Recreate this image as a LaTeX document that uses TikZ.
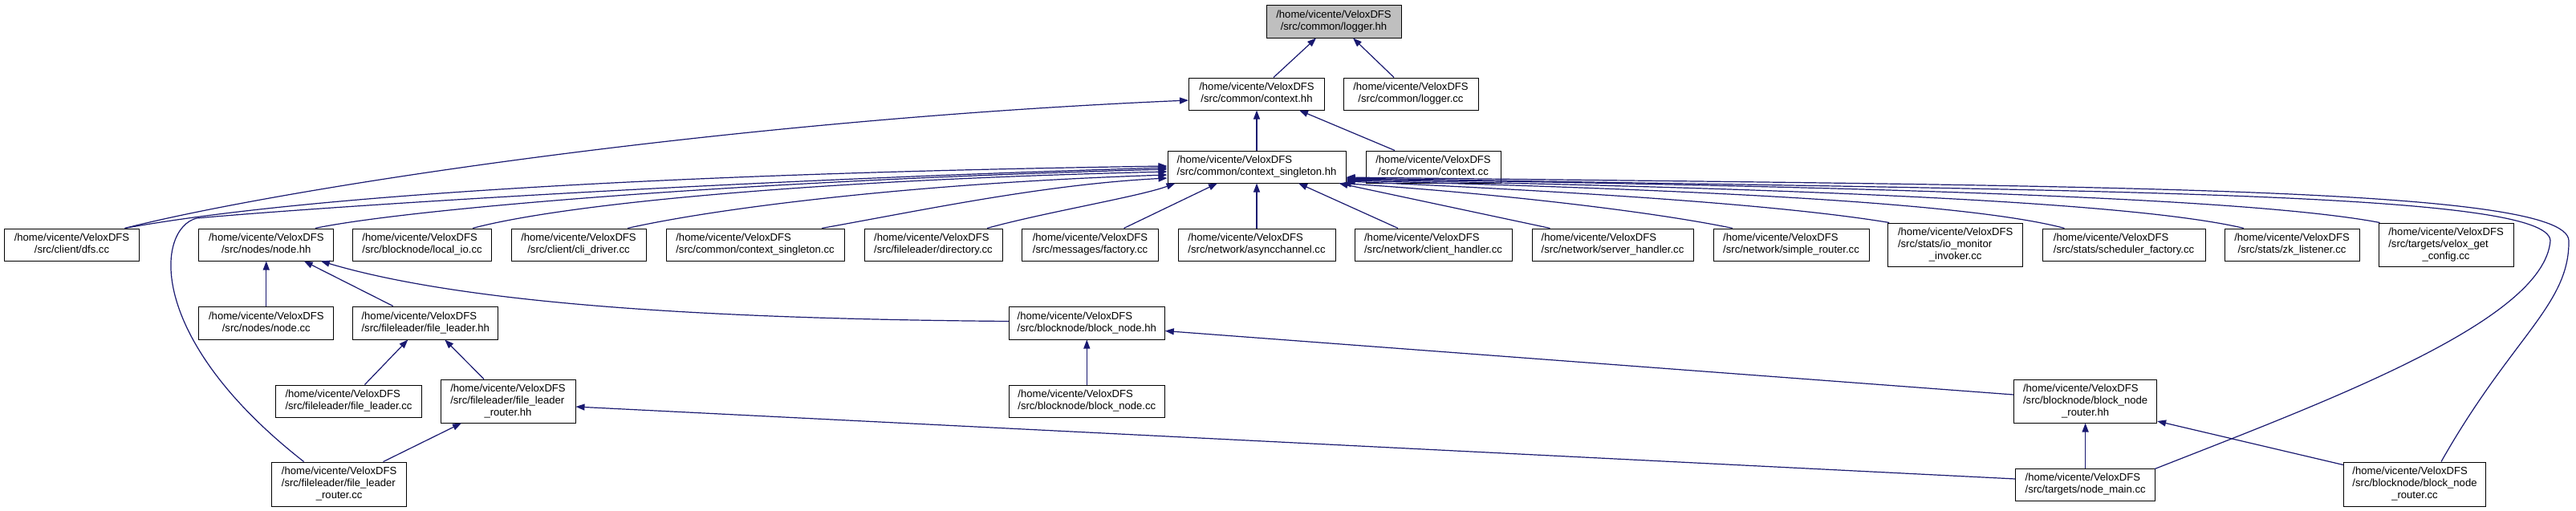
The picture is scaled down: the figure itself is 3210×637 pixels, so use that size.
\documentclass[tikz,border=0pt]{standalone}
\usepackage{fontspec}
\setmainfont{Liberation Sans}
\usetikzlibrary{arrows.meta,calc}
\definecolor{edgecol}{HTML}{191970}
\definecolor{focusfill}{HTML}{BFBFBF}
\newcommand\twol[1]{\begin{tabular}{@{}l@{}}/home/vicente/VeloxDFS\\\multicolumn{1}{@{}c@{}}{#1}\end{tabular}}
\newcommand\threel[2]{\begin{tabular}{@{}l@{}}/home/vicente/VeloxDFS\\#1\\\multicolumn{1}{@{}c@{}}{#2}\end{tabular}}
\begin{document}
\begin{tikzpicture}[x=1pt,y=-1pt,
  file/.style={draw=black, line width=1pt, fill=white, inner sep=0pt, font=\fontsize{13.1}{15}\selectfont},
  dep/.style={draw=edgecol, line width=1.2pt, -{Triangle[length=11pt,width=8pt]}}]
\fill[white] (0,0) rectangle (3210,637);
\useasboundingbox (0,0) rectangle (3210,637);
% row 0-1
\node[file, fill=focusfill, minimum width=168pt, minimum height=41pt] (loggerhh) at (1662,26.5) {\twol{/src/common/logger.hh}};
\node[file, minimum width=169pt, minimum height=40pt] (contexthh) at (1566,117) {\twol{/src/common/context.hh}};
\node[file, minimum width=168pt, minimum height=40pt] (loggercc) at (1758,117) {\twol{/src/common/logger.cc}};
\node[file, minimum width=222pt, minimum height=40pt] (cshh) at (1566,208) {\twol{/src/common/context\_singleton.hh}};
\node[file, minimum width=168pt, minimum height=40pt] (contextcc) at (1786,208) {\twol{/src/common/context.cc}};
% row 2
\node[file, minimum width=168pt, minimum height=40pt] (dfscc) at (89.5,305) {\twol{/src/client/dfs.cc}};
\node[file, minimum width=168pt, minimum height=40pt] (nodehh) at (331.8,305) {\twol{/src/nodes/node.hh}};
\node[file, minimum width=173pt, minimum height=40pt] (localio) at (526,305) {\twol{/src/blocknode/local\_io.cc}};
\node[file, minimum width=168pt, minimum height=40pt] (clidriver) at (721,305) {\twol{/src/client/cli\_driver.cc}};
\node[file, minimum width=222pt, minimum height=40pt] (cscc) at (941,305) {\twol{/src/common/context\_singleton.cc}};
\node[file, minimum width=172pt, minimum height=40pt] (directory) at (1163,305) {\twol{/src/fileleader/directory.cc}};
\node[file, minimum width=170pt, minimum height=40pt] (factory) at (1358.5,305) {\twol{/src/messages/factory.cc}};
\node[file, minimum width=196pt, minimum height=40pt] (asyncch) at (1566,305) {\twol{/src/network/asyncchannel.cc}};
\node[file, minimum width=196pt, minimum height=40pt] (clienth) at (1786,305) {\twol{/src/network/client\_handler.cc}};
\node[file, minimum width=201pt, minimum height=40pt] (serverh) at (2009.5,305) {\twol{/src/network/server\_handler.cc}};
\node[file, minimum width=194pt, minimum height=40pt] (simpler) at (2232,305) {\twol{/src/network/simple\_router.cc}};
\node[file, minimum width=168pt, minimum height=54pt] (iomon) at (2436.7,305) {\threel{/src/stats/io\_monitor}{\_invoker.cc}};
\node[file, minimum width=203pt, minimum height=40pt] (schedf) at (2646.5,305) {\twol{/src/stats/scheduler\_factory.cc}};
\node[file, minimum width=168pt, minimum height=40pt] (zkl) at (2856,305) {\twol{/src/stats/zk\_listener.cc}};
\node[file, minimum width=168pt, minimum height=54pt] (veloxget) at (3048,305) {\threel{/src/targets/velox\_get}{\_config.cc}};
% row 3
\node[file, minimum width=168pt, minimum height=41pt] (nodecc) at (331.8,402.5) {\twol{/src/nodes/node.cc}};
\node[file, minimum width=181pt, minimum height=41pt] (flhh) at (530.3,402.5) {\twol{/src/fileleader/file\_leader.hh}};
\node[file, minimum width=194pt, minimum height=41pt] (bnhh) at (1354.3,402.5) {\twol{/src/blocknode/block\_node.hh}};
% row 4
\node[file, minimum width=182pt, minimum height=40pt] (flcc) at (434.5,500) {\twol{/src/fileleader/file\_leader.cc}};
\node[file, minimum width=168pt, minimum height=54pt] (flrhh) at (633,500) {\threel{/src/fileleader/file\_leader}{\_router.hh}};
\node[file, minimum width=194pt, minimum height=40pt] (bncc) at (1354.3,500) {\twol{/src/blocknode/block\_node.cc}};
\node[file, minimum width=178pt, minimum height=54pt] (bnrhh) at (2598.6,500) {\threel{/src/blocknode/block\_node}{\_router.hh}};
% row 5
\node[file, minimum width=168pt, minimum height=55pt] (flrcc) at (422.6,603.5) {\threel{/src/fileleader/file\_leader}{\_router.cc}};
\node[file, minimum width=174pt, minimum height=40pt] (nodemain) at (2598.6,604) {\twol{/src/targets/node\_main.cc}};
\node[file, minimum width=177pt, minimum height=55pt] (bnrcc) at (3009,603.5) {\threel{/src/blocknode/block\_node}{\_router.cc}};

% edges top
\draw[dep] ($(contexthh.north)+(21,0)$) -- ($(loggerhh.south)+(-22,0)$);
\draw[dep] ($(loggercc.north)+(-21,0)$) -- ($(loggerhh.south)+(24,0)$);
\draw[dep] (cshh.north) -- (contexthh.south);
\draw[dep] ($(contextcc.north)+(-48,0)$) -- ($(contexthh.south)+(53,0)$);
\draw[dep] ($(dfscc.north)+(66,0)$) .. controls (350,235) and (900,150) .. ($(contexthh.west)+(0,8)$);
% edges into context_singleton.hh (left)
\draw[dep] ($(dfscc.north)+(66,0)$) .. controls (400,240) and (900,215) .. ($(cshh.west)+(0,-1)$);
\draw[dep] ($(flrcc.north)+(-44,0)$) .. controls (180,420) and (195,285) .. (245,272) .. controls (400,258) and (900,225) .. ($(cshh.west)+(0,1)$);
\draw[dep] ($(nodehh.north)+(61,0)$) .. controls (500,262) and (900,226) .. ($(cshh.west)+(0,3)$);
\draw[dep] ($(localio.north)+(63,0)$) .. controls (700,255) and (1000,225) .. ($(cshh.west)+(0,6)$);
\draw[dep] ($(clidriver.north)+(61,0)$) .. controls (900,258) and (1150,228) .. ($(cshh.west)+(0,10)$);
\draw[dep] ($(cscc.north)+(83,0)$) .. controls (1150,262) and (1300,230) .. ($(cshh.west)+(0,14)$);
% edges into context_singleton.hh (bottom)
\draw[dep] ($(directory.north)+(67,0)$) .. controls (1300,265) and (1420,245) .. ($(cshh.south west)+(10,0)$);
\draw[dep] ($(factory.north)+(42,0)$) -- ($(cshh.south)+(-49,0)$);
\draw[dep] (asyncch.north) -- (cshh.south);
\draw[dep] ($(clienth.north)+(-44,0)$) -- ($(cshh.south)+(52,0)$);
\draw[dep] ($(serverh.north)+(-78,0)$) -- ($(cshh.south east)+(-9,0)$);
% edges into context_singleton.hh (right)
\draw[dep] ($(simpler.north)+(-73,0)$) .. controls (2050,262) and (1850,240) .. ($(cshh.south east)+(-5,0)$);
\draw[dep] ($(iomon.north west)+(2,0)$) .. controls (2200,252) and (1900,236) .. ($(cshh.east)+(0,18)$);
\draw[dep] ($(schedf.north)+(-74,0)$) .. controls (2450,252) and (2100,236) .. ($(cshh.east)+(0,17)$);
\draw[dep] ($(zkl.north)+(-60,0)$) .. controls (2650,250) and (2200,234) .. ($(cshh.east)+(0,16)$);
\draw[dep] ($(veloxget.north west)+(2,0)$) .. controls (2800,246) and (2300,232) .. ($(cshh.east)+(0,15)$);
\draw[dep] ($(nodemain.north east)+(-1,1)$) .. controls (2900,500) and (3170,400) .. (3178,300) .. controls (3176,238) and (2600,238) .. ($(cshh.east)+(0,14)$);
\draw[dep] ($(bnrcc.north)+(33,0)$) .. controls (3130,420) and (3202,380) .. (3201,300) .. controls (3199,232) and (2600,232) .. ($(cshh.east)+(0,13)$);
% lower edges
\draw[dep] (nodecc.north) -- (nodehh.south);
\draw[dep] ($(flhh.north)+(-40.6,0)$) -- ($(nodehh.south)+(47,0)$);
\draw[dep] ($(bnhh.west)+(0,-2)$) .. controls (950,398) and (600,385) .. ($(nodehh.south)+(68,0)$);
\draw[dep] ($(flcc.north)+(20,0)$) -- ($(flhh.south)+(-22,0)$);
\draw[dep] ($(flrhh.north)+(-30,0)$) -- ($(flhh.south)+(24,0)$);
\draw[dep] ($(flrcc.north)+(55,0)$) -- ($(flrhh.south)+(-58,0)$);
\draw[dep] ($(nodemain.west)+(0,-7)$) -- ($(flrhh.east)+(0,7)$);
\draw[dep] (bncc.north) -- (bnhh.south);
\draw[dep] ($(bnrhh.west)+(0,-8)$) -- ($(bnhh.east)+(0,10)$);
\draw[dep] (nodemain.north) -- (bnrhh.south);
\draw[dep] ($(bnrcc.north west)+(0,4)$) -- ($(bnrhh.east)+(0,25)$);
\end{tikzpicture}
\end{document}
